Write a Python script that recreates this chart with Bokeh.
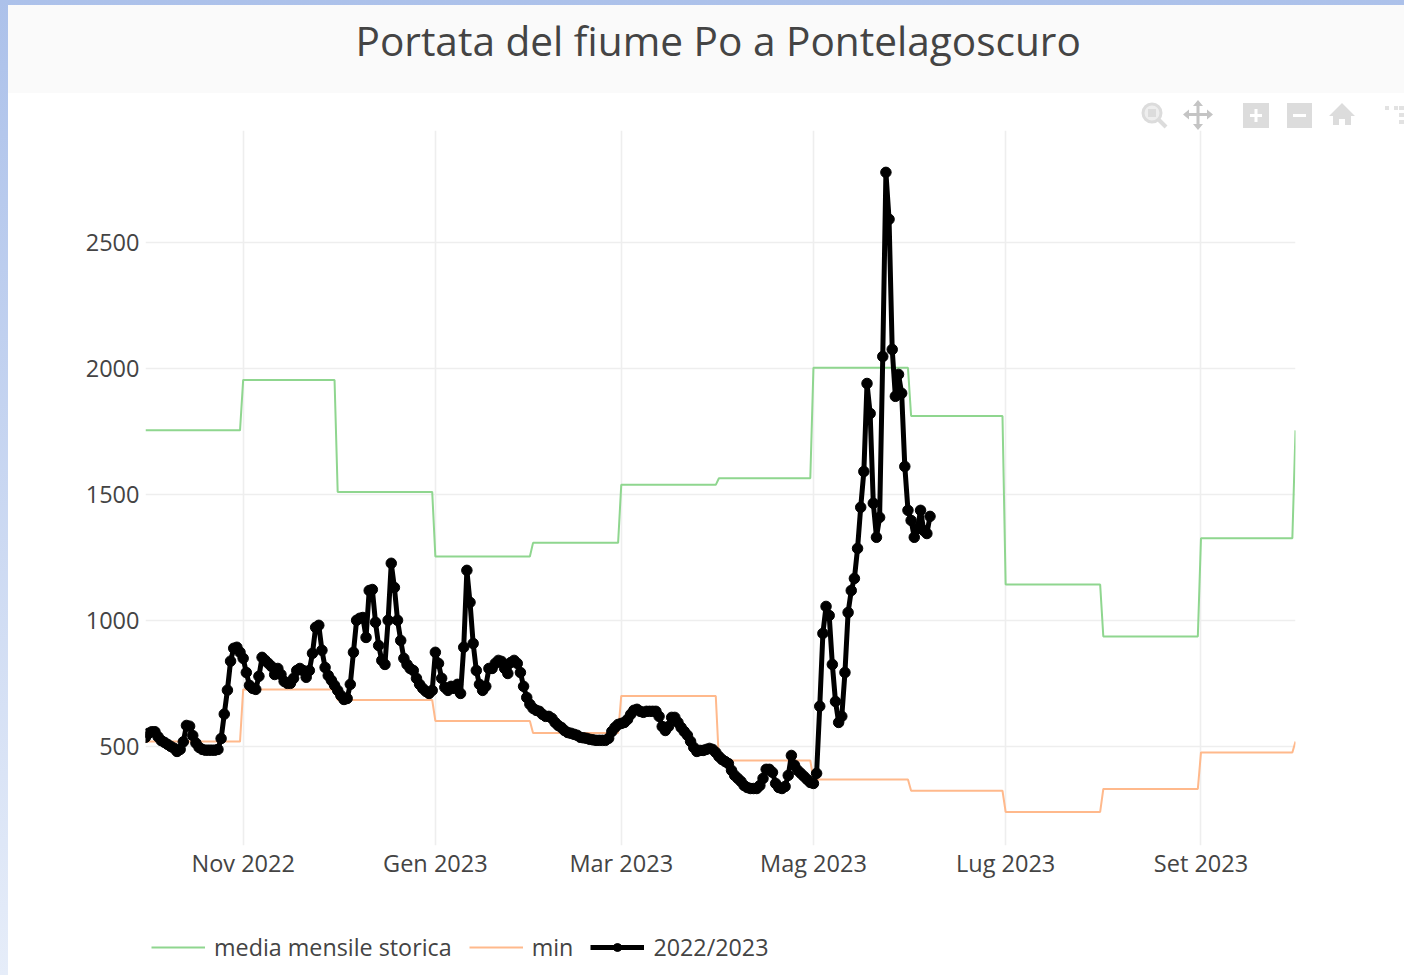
import pandas as pd
from bokeh.plotting import figure
from bokeh.layouts import column
from bokeh.embed import file_html
from bokeh.resources import INLINE
from bokeh.models import FixedTicker, Legend, LegendItem, Range1d, Title

title_text = "Portata del fiume Po a Pontelagoscuro"
month_starts = ["2022-10-01", "2022-11-01", "2022-12-01", "2023-01-01", "2023-02-01", "2023-03-01",
                "2023-04-01", "2023-05-01", "2023-06-01", "2023-07-01", "2023-08-01", "2023-09-01",
                "2023-10-01"]
media_mensile = [1755, 1955, 1511, 1255, 1309, 1539, 1565, 2003, 1812, 1144, 938, 1327, 1755]
minimo = [521, 728, 686, 603, 555, 702, 446, 371, 326, 242, 333, 478, 521]
series_start = "2022-10-01"
portata_2022_23 = [
    538, 554, 560, 560, 540, 525, 518, 510, 502, 495, 482, 490, 520, 585, 582, 545, 515, 498, 490, 487,
    487, 487, 487, 490, 533, 630, 725, 840, 891, 895, 875, 851, 795, 744, 732, 728, 780, 855, 843, 831,
    819, 787, 811, 787, 760, 752, 752, 772, 803, 811, 803, 776, 803, 871, 974, 982, 883, 815, 783, 764,
    744, 724, 704, 688, 692, 748, 875, 1002, 1010, 1013, 934, 1120, 1124, 994, 902, 843, 827, 1002, 1228, 1132,
    1002, 922, 851, 827, 811, 803, 772, 748, 732, 720, 712, 724, 875, 831, 772, 736, 724, 740, 732, 748,
    712, 895, 1200, 1073, 910, 803, 748, 724, 740, 811, 811, 831, 843, 839, 811, 791, 835, 843, 831, 795,
    740, 696, 669, 653, 645, 641, 629, 621, 621, 613, 597, 585, 577, 565, 557, 554, 550, 546, 538, 536,
    534, 530, 528, 526, 526, 526, 526, 534, 561, 577, 589, 593, 597, 609, 629, 645, 649, 641, 637, 641,
    641, 641, 641, 621, 581, 565, 581, 617, 617, 597, 577, 561, 546, 522, 498, 482, 486, 486, 490, 494,
    490, 478, 462, 450, 442, 434, 407, 387, 375, 363, 347, 339, 335, 335, 335, 347, 375, 411, 411, 399,
    355, 339, 335, 343, 387, 466, 427, 407, 395, 383, 371, 359, 355, 395, 661, 950, 1057, 1021, 827, 680,
    597, 621, 795, 1033, 1120, 1168, 1287, 1450, 1592, 1941, 1822, 1466, 1331, 1410, 2048, 2778, 2592, 2076, 1890, 1977,
    1902, 1612, 1438, 1398, 1331, 1366, 1438, 1358, 1346, 1414]
y_ticks = [500, 1000, 1500, 2000, 2500]
x_tick_dates = ["2022-11-01", "2023-01-01", "2023-03-01", "2023-05-01", "2023-07-01", "2023-09-01"]
x_tick_labels = ["Nov 2022", "Gen 2023", "Mar 2023", "Mag 2023", "Lug 2023", "Set 2023"]
legend_names = ["media mensile storica", "min", "2022/2023"]
x_limits = ["2022-10-01", "2023-10-01"]
y_limits = [109, 2944]


def ms(d):
    return pd.Timestamp(d).value / 1e6


def daily_steps(values):
    xs, ys = [], []
    for i in range(len(month_starts) - 1):
        for day in pd.date_range(month_starts[i], month_starts[i + 1], inclusive="left"):
            xs.append(day)
            ys.append(values[i])
    xs.append(pd.Timestamp(month_starts[-1]))
    ys.append(values[-1])
    return xs, ys


W, H, LEG_H = 1396, 880, 88
GREEN, ORANGE = "#8fd68f", "#ffb98c"
BLACK_W, DOT = 5, 10.5
p = figure(width=W, height=H, output_backend="svg", toolbar_location=None,
           x_axis_type="datetime", min_border_left=137, min_border_right=109,
           min_border_top=125, min_border_bottom=40,
           x_range=Range1d(ms(x_limits[0]), ms(x_limits[1])), y_range=Range1d(*y_limits),
           background_fill_color=None, border_fill_color=None, outline_line_color=None)

p.title.text = title_text
p.title.align = "left"
p.title.offset = 210
p.title.text_font = "Open Sans"
p.title.text_font_style = "normal"
p.title.text_font_size = "40.6px"
p.title.text_color = "#444444"
p.add_layout(Title(text="\u00a0", text_font_size="12px", standoff=42), "above")

TICK_FONT = "Open Sans"
TICK_SIZE = "23.5px"
for ax in (p.xaxis[0], p.yaxis[0]):
    ax.axis_line_color = None
    ax.major_tick_line_color = None
    ax.minor_tick_line_color = None
    ax.major_tick_out = 0
    ax.major_tick_in = 0
    ax.major_label_text_font = TICK_FONT
    ax.major_label_text_font_size = TICK_SIZE
    ax.major_label_text_color = "#444444"
p.xaxis[0].ticker = FixedTicker(ticks=[ms(d) for d in x_tick_dates])
p.xaxis[0].major_label_overrides = {ms(d): t for d, t in zip(x_tick_dates, x_tick_labels)}
p.xaxis[0].major_label_standoff = 1
p.yaxis[0].ticker = FixedTicker(ticks=y_ticks)
p.yaxis[0].major_label_standoff = 6
p.yaxis[0].formatter.use_scientific = False
p.grid.grid_line_color = "#eeeeee"
p.grid.grid_line_width = 1.6

xm, ym = daily_steps(media_mensile)
xn, yn = daily_steps(minimo)
xb = pd.date_range(series_start, periods=len(portata_2022_23))
p.line(xm, ym, line_color=GREEN, line_width=2)
p.line(xn, yn, line_color=ORANGE, line_width=2)
p.line(xb, portata_2022_23, line_color="black", line_width=BLACK_W)
p.scatter(xb, portata_2022_23, marker="circle", size=DOT, fill_color="black", line_color="black")

# legend strip under the plot: its keys carry a point outside the strip's range
lf = figure(width=W, height=LEG_H, output_backend="svg", toolbar_location=None,
            x_axis_type=None, y_axis_type=None, min_border=0,
            x_range=Range1d(0, 1), y_range=Range1d(0, 1),
            background_fill_color=None, border_fill_color=None, outline_line_color=None)
lf.grid.visible = False
k_media = lf.line([ms(series_start)] * 2, media_mensile[:2], line_color=GREEN, line_width=2)
k_min = lf.line([ms(series_start)] * 2, minimo[:2], line_color=ORANGE, line_width=2)
k_line = lf.line([ms(series_start)] * 2, portata_2022_23[:2], line_color="black", line_width=BLACK_W)
k_dots = lf.scatter([ms(series_start)], portata_2022_23[:1], marker="circle", size=DOT,
                    fill_color="black", line_color="black")
legend = Legend(items=[LegendItem(label=legend_names[0], renderers=[k_media]),
                       LegendItem(label=legend_names[1], renderers=[k_min]),
                       LegendItem(label=legend_names[2], renderers=[k_line, k_dots])],
                orientation="horizontal", location=(6, 10), background_fill_alpha=0,
                border_line_color=None, glyph_width=54, glyph_height=20, label_standoff=9,
                spacing=17, margin=0, padding=0,
                label_text_font=TICK_FONT, label_text_font_size="23.3px", label_text_color="#444444")
lf.add_layout(legend, "center")

# mode bar, drawn in page pixels above the canvas
C1, C2, C3 = "#dcdcdc", "#c4c4c4", "#e2e2e2"
modebar = f"""
<svg xmlns="http://www.w3.org/2000/svg" width="1404" height="140"
 style="position:absolute;left:0;top:0;pointer-events:none">
<circle cx="1152" cy="113" r="9" fill="#eeeeee" stroke="{C1}" stroke-width="3"/>
<rect x="1148" y="109" width="8" height="8" fill="{C1}"/>
<path d="M1158 119 L1166 127" stroke="{C1}" stroke-width="4"/>
<path d="M1185 114.5 H1211 M1198 102 V128" stroke="{C2}" stroke-width="3"/>
<path d="M1198 100 l5 6 h-10 z M1198 130 l5 -6 h-10 z M1183 114.5 l6 -5 v10 z M1213 114.5 l-6 -5 v10 z" fill="{C2}"/>
<rect x="1243" y="103" width="26" height="25" fill="{C1}"/>
<path d="M1250 115.5 H1262 M1256 109 V122" stroke="white" stroke-width="3"/>
<rect x="1287" y="103" width="25" height="25" fill="{C1}"/>
<path d="M1293 115.5 H1306" stroke="white" stroke-width="3"/>
<path d="M1342 103 L1355 116 H1351 V125 H1345 V119 H1339 V125 H1333 V116 H1329 Z" fill="{C1}"/>
<g fill="{C3}"><rect x="1385" y="106" width="4" height="4"/><rect x="1394" y="106" width="4" height="4"/>
<rect x="1399" y="106" width="5" height="4"/><rect x="1399" y="113" width="5" height="4"/><rect x="1399" y="120" width="5" height="4"/></g>
</svg>"""

html = file_html(column(p, lf, spacing=0), INLINE)
css = ("<style>html{height:100%;background:"
       "linear-gradient(#fafafa,#fafafa) 8px 5px/100% 88px no-repeat,"
       "linear-gradient(#fff,#fff) 8px 5px/100% 100% no-repeat,"
       "linear-gradient(#acc1ea,#e6edf9) no-repeat;}"
       "body{height:100%;margin:5px 0 0 8px !important;overflow:hidden;background:transparent;}</style>")
html = html.replace("</head>", css + "</head>", 1)
html = html.replace("</body>", modebar + "</body>", 1)
open("out.html", "w").write(html)
